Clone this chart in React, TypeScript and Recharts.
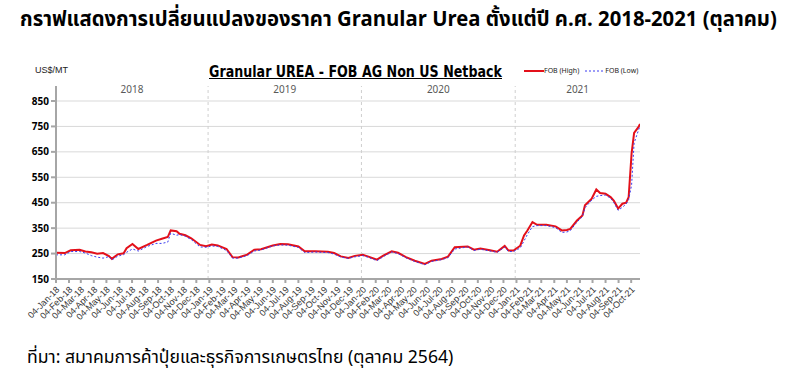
import React from "react";
import {
  LineChart, Line, XAxis, YAxis, CartesianGrid, ReferenceLine, ReferenceArea,
} from "recharts";

// weekly-ish reading dates (FOB AG non US netback)
const dates = [
  "2018-01-04", "2018-01-25", "2018-02-08", "2018-03-01", "2018-03-15", "2018-03-29",
  "2018-04-12", "2018-04-26", "2018-05-10", "2018-05-17", "2018-05-31", "2018-06-14",
  "2018-06-21", "2018-07-05", "2018-07-19", "2018-08-09", "2018-08-30", "2018-09-13",
  "2018-09-27", "2018-10-04", "2018-10-18", "2018-10-25", "2018-11-08", "2018-11-22",
  "2018-12-13", "2018-12-27", "2019-01-10", "2019-01-24", "2019-02-14", "2019-02-28",
  "2019-03-14", "2019-04-04", "2019-04-21", "2019-05-07", "2019-06-04", "2019-06-22",
  "2019-07-10", "2019-08-04", "2019-08-19", "2019-09-13", "2019-10-13", "2019-10-28",
  "2019-11-13", "2019-12-01", "2019-12-16", "2020-01-04", "2020-01-16", "2020-02-07",
  "2020-02-22", "2020-03-13", "2020-03-28", "2020-04-16", "2020-05-07", "2020-05-31",
  "2020-06-16", "2020-07-10", "2020-07-25", "2020-08-10", "2020-09-10", "2020-09-25",
  "2020-10-10", "2020-10-30", "2020-11-19", "2020-12-07", "2020-12-16", "2020-12-28",
  "2021-01-13", "2021-01-22", "2021-01-30", "2021-02-11", "2021-02-22", "2021-03-16",
  "2021-04-07", "2021-04-22", "2021-05-04", "2021-05-12", "2021-05-28", "2021-06-10",
  "2021-06-16", "2021-07-02", "2021-07-13", "2021-07-22", "2021-08-04", "2021-08-16",
  "2021-08-24", "2021-09-03", "2021-09-13", "2021-09-22", "2021-09-28", "2021-10-05",
  "2021-10-11", "2021-10-22", "2021-10-25",
];

const fobHigh = [
  253, 252, 263, 265, 258, 255, 249, 252, 240, 229, 247, 251,
  271, 288, 268, 284, 301, 308, 315, 341, 338, 328, 322, 310,
  284, 279, 286, 282, 268, 236, 235, 246, 265, 267, 282, 288,
  287, 278, 259, 259, 257, 252, 239, 233, 241, 245, 239, 226,
  242, 259, 253, 236, 222, 209, 222, 229, 238, 275, 278, 265,
  270, 264, 257, 280, 262, 262, 281, 321, 341, 374, 363, 363,
  357, 341, 343, 347, 380, 400, 440, 466, 502, 488, 485, 472,
  457, 427, 446, 450, 472, 644, 725, 749, 760,
];

const fobLow = [
  245, 245, 258, 258, 252, 242, 236, 232, 238, 225, 240, 246,
  255, 268, 260, 278, 290, 290, 295, 330, 322, 325, 318, 305,
  276, 275, 280, 278, 262, 232, 232, 242, 260, 264, 280, 284,
  283, 274, 254, 256, 254, 248, 236, 231, 237, 242, 236, 222,
  238, 256, 250, 233, 219, 206, 219, 226, 234, 268, 276, 262,
  267, 261, 255, 275, 258, 258, 272, 300, 325, 356, 360, 360,
  352, 333, 335, 340, 374, 395, 430, 460, 475, 478, 480, 468,
  450, 420, 432, 445, 462, 520, 685, 738, 752,
];

const years = ["2018", "2019", "2020", "2021"];
const yTicks = [150, 250, 350, 450, 550, 650, 750, 850];
const monthNames = ["Jan", "Feb", "Mar", "Apr", "May", "Jun", "Jul", "Aug", "Sep", "Oct", "Nov", "Dec"];

const xStart = Date.parse("2018-01-04");
const xEnd = Date.parse("2021-10-25");

const xTicks: number[] = [];
for (let y = 2018; y <= 2021; y++) {
  for (let m = 0; m < 12; m++) {
    const t = Date.UTC(y, m, 4);
    if (t <= Date.parse("2021-10-04")) xTicks.push(t);
  }
}

const data = dates.map((d, i) => ({ t: Date.parse(d), high: fobHigh[i], low: fobLow[i] }));

const fmtDate = (t: number) => {
  const d = new Date(t);
  const dd = String(d.getUTCDate()).padStart(2, "0");
  const yy = String(d.getUTCFullYear()).slice(2);
  return `${dd}-${monthNames[d.getUTCMonth()]}-${yy}`;
};

const DateTick = (props: any) => {
  const { x, y, payload } = props;
  return (
    <g transform={`translate(${x + 2},${y + 3})`}>
      <text transform="rotate(-45)" textAnchor="end" fontSize={9} fill="#333" dy={3}
        fontFamily="'Liberation Sans', sans-serif">
        {fmtDate(payload.value)}
      </text>
    </g>
  );
};

const thai = "'Noto Sans Thai', 'Noto Sans', 'DejaVu Sans', sans-serif";

export default function App() {
  return (
    <div style={{ position: "absolute", left: 0, top: 0, width: 797, height: 384, background: "#fff", fontFamily: "'Noto Sans', sans-serif" }}>
      <div style={{ position: "absolute", left: 20, top: 4, fontSize: 21, fontWeight: 700, fontFamily: thai, color: "#000", whiteSpace: "nowrap", transform: "scaleX(0.965)", transformOrigin: "left center" }}>
        กราฟแสดงการเปลี่ยนแปลงของราคา Granular Urea ตั้งแต่ปี ค.ศ. 2018-2021 (ตุลาคม)
      </div>
      <div style={{ position: "absolute", left: 35, top: 65, fontSize: 9, color: "#222", fontFamily: "'Liberation Sans', sans-serif" }}>US$/MT</div>
      <div style={{ position: "absolute", left: 209, top: 63, fontSize: 15, fontWeight: 700, textDecoration: "underline", color: "#000", whiteSpace: "nowrap", fontFamily: "'DejaVu Sans', sans-serif", transform: "scaleX(0.845)", transformOrigin: "left center" }}>
        Granular UREA - FOB AG Non US Netback
      </div>
      <div style={{ position: "absolute", left: 524, top: 66, fontSize: 7, color: "#222", display: "flex", alignItems: "center", whiteSpace: "nowrap" }}>
        <svg width={20} height={6}><line x1={0} y1={3} x2={20} y2={3} stroke="#E3101A" strokeWidth={2} /></svg>
        <span style={{ marginRight: 6 }}>FOB (High)</span>
        <svg width={20} height={6}><line x1={0} y1={3} x2={20} y2={3} stroke="#3b3bf0" strokeWidth={1} strokeDasharray="2 2" /></svg>
        <span>FOB (Low)</span>
      </div>
      <LineChart width={797} height={384} data={data} margin={{ top: 86, right: 157, left: 16, bottom: 55 }}>
        <CartesianGrid stroke="#d9d9d9" vertical={false} horizontalValues={[250, 350, 450, 550, 650, 750, 850]} />
        {years.map((y) => {
          const a = Math.max(Date.UTC(+y, 0, 1), xStart);
          const b = Math.min(Date.UTC(+y + 1, 0, 1), xEnd);
          return (
            <ReferenceArea key={y} x1={a} x2={b} y1={850} y2={909} fillOpacity={0} strokeOpacity={0} ifOverflow="visible"
              label={{ value: y, position: "insideTop", offset: 0, fontSize: 10, fill: "#595959" }} />
          );
        })}
        {years.slice(1).map((y) => (
          <ReferenceLine key={y} x={Date.UTC(+y, 0, 1)} stroke="#cfcfcf" strokeDasharray="3 3" />
        ))}
        <XAxis dataKey="t" type="number" scale="time" domain={[xStart, xEnd]} ticks={xTicks} interval={0}
          tick={<DateTick />} stroke="#a6a6a6" strokeWidth={2} tickSize={4} height={50} allowDataOverflow />
        <YAxis type="number" domain={[150, 909]} ticks={yTicks} width={40} stroke="#a6a6a6" strokeWidth={2}
          tickSize={5} tick={{ fontSize: 10, fontWeight: 700, fill: "#000" }} allowDataOverflow />
        <Line type="linear" dataKey="high" stroke="#E3101A" strokeWidth={2} dot={false} isAnimationActive={false} />
        <Line type="linear" dataKey="low" stroke="#3b3bf0" strokeWidth={1} strokeDasharray="2 2" dot={false} isAnimationActive={false} />
      </LineChart>
      <div style={{ position: "absolute", left: 27, top: 344, fontSize: 17.6, color: "#000", fontFamily: thai, whiteSpace: "nowrap" }}>
        ที่มา: สมาคมการค้าปุ๋ยและธุรกิจการเกษตรไทย (ตุลาคม 2564)
      </div>
    </div>
  );
}
